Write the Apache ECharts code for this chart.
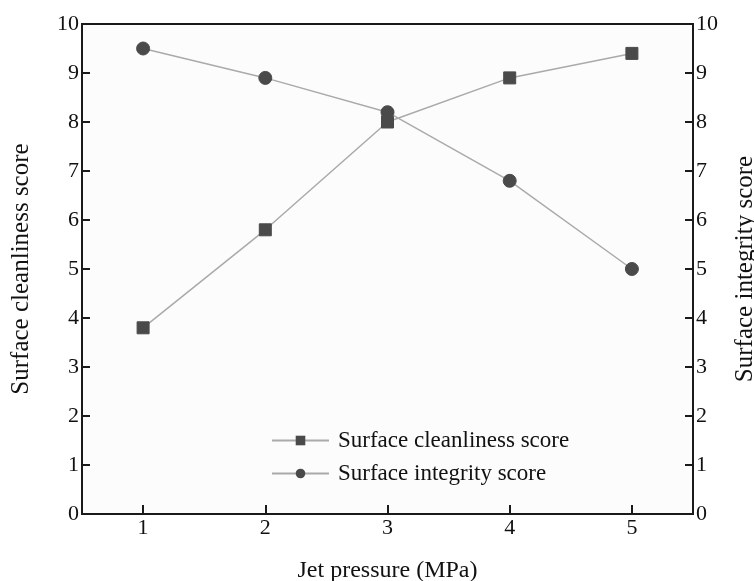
<!DOCTYPE html>
<html>
<head>
<meta charset="utf-8">
<script src="https://cdn.jsdelivr.net/npm/echarts@6/dist/echarts.min.js"></script>
<style>
html,body{margin:0;padding:0;background:#ffffff;}
#chart{width:754px;height:581px;}
</style>
</head>
<body>
<div id="chart"></div>
<script>
var categories = ['1', '2', '3', '4', '5'];
var cleanlinessScore = [3.8, 5.8, 8.0, 8.9, 9.4];
var integrityScore = [9.5, 8.9, 8.2, 6.8, 5.0];
var yTicks = [0, 1, 2, 3, 4, 5, 6, 7, 8, 9, 10];
var xTitle = 'Jet pressure (MPa)';
var yLeftTitle = 'Surface cleanliness score';
var yRightTitle = 'Surface integrity score';
var seriesNames = ['Surface cleanliness score', 'Surface integrity score'];

var FONT = 'Liberation Serif';
var lineColor = '#aaaaaa';
var markColor = '#4a4a4a';
var axisColor = '#1a1a1a';

function yAxisDef(pos, title, gap) {
  return {
    type: 'value',
    position: pos,
    min: yTicks[0],
    max: yTicks[yTicks.length - 1],
    interval: 1,
    name: title,
    nameLocation: 'middle',
    nameRotate: 90,
    nameGap: gap,
    nameTextStyle: {fontFamily: FONT, fontSize: 25, color: '#111'},
    axisLine: {show: true, lineStyle: {color: axisColor, width: 2}},
    axisTick: {show: true, inside: true, length: 8, lineStyle: {color: axisColor, width: 2}},
    axisLabel: {fontFamily: FONT, fontSize: 22, color: '#111', margin: 3},
    splitLine: {show: false}
  };
}

var chart = echarts.init(document.getElementById('chart'), null, {renderer: 'canvas'});
chart.setOption({
  animation: false,
  backgroundColor: '#ffffff',
  grid: {
    left: 82, right: 61, top: 24, bottom: 67,
    containLabel: false,
    outerBoundsMode: 'none',
    show: true, backgroundColor: '#fcfcfc',
    borderColor: axisColor, borderWidth: 2
  },
  legend: {
    orient: 'vertical',
    left: 266, top: 424,
    itemWidth: 57, itemHeight: 12, itemGap: 10,
    textStyle: {fontFamily: FONT, fontSize: 23, color: '#111', padding: [0, 0, 0, 4]},
    data: seriesNames
  },
  xAxis: {
    type: 'category',
    data: categories,
    boundaryGap: true,
    name: xTitle,
    nameLocation: 'middle',
    nameGap: 45,
    nameTextStyle: {fontFamily: FONT, fontSize: 24, color: '#111'},
    axisLine: {show: true, lineStyle: {color: axisColor, width: 2}},
    axisTick: {show: true, inside: true, length: 9, alignWithLabel: true, lineStyle: {color: axisColor, width: 2}},
    axisLabel: {fontFamily: FONT, fontSize: 22, color: '#111', margin: 3},
    splitLine: {show: false}
  },
  yAxis: [yAxisDef('left', yLeftTitle, 48), yAxisDef('right', yRightTitle, 40)],
  series: [
    {
      name: seriesNames[0], type: 'line', yAxisIndex: 0,
      data: cleanlinessScore,
      symbol: 'rect', symbolSize: 12,
      lineStyle: {color: lineColor, width: 1.5},
      itemStyle: {color: markColor, borderColor: markColor},
      z: 3
    },
    {
      name: seriesNames[1], type: 'line', yAxisIndex: 1,
      data: integrityScore,
      symbol: 'circle', symbolSize: 13,
      lineStyle: {color: lineColor, width: 1.5},
      itemStyle: {color: markColor, borderColor: markColor},
      z: 4
    }
  ]
});
</script>
</body>
</html>
